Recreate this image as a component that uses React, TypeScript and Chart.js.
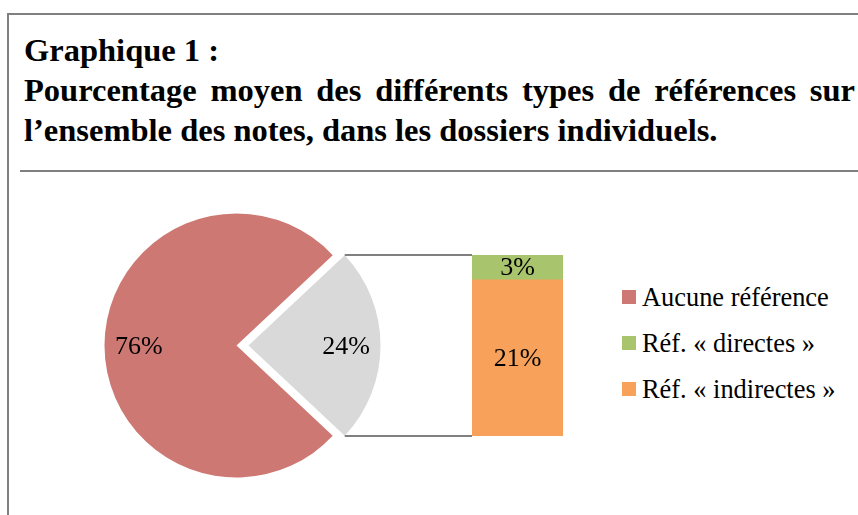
import React, { useEffect, useRef } from "react";
import { Chart, registerables } from "chart.js";

Chart.register(...registerables);

// ---- data ----
const titleLine1 = "Graphique 1 :";
const titleLine2 =
  "Pourcentage moyen des différents types de références sur l’ensemble des notes, dans les dossiers individuels.";

const pieCategories = ["Références", "Aucune référence"];
const pieValues = [24, 76];

const barCategories = ["Références"];
const directValues = [3.3];
const indirectValues = [20.7];

const legendLabels = ["Aucune référence", "Réf. « directes »", "Réf. « indirectes »"];

// ---- styles ----
const FONT = '"Liberation Serif", "Times New Roman", serif';
const RED = "#CD7873";
const GREY = "#D9D9D9";
const GREEN = "#A8C46C";
const ORANGE = "#F8A15B";
const LINE = "#808080";
const legendColors = [RED, GREEN, ORANGE];

const PIE_LEFT = 0;
const PIE_TOP = 171;
const PIE_W = 472;
const PIE_H = 344;
const BAR_LEFT = 472;
const BAR_TOP = 255;
const BAR_W = 91;
const BAR_H = 181;

export default function App() {
  const pieRef = useRef<HTMLCanvasElement | null>(null);
  const barRef = useRef<HTMLCanvasElement | null>(null);

  useEffect(() => {
    if (!pieRef.current || !barRef.current) return;

    const barLabelPlugin = {
      id: "barLabels",
      afterDatasetsDraw(chart: any) {
        const ctx = chart.ctx;
        ctx.save();
        ctx.font = `26px ${FONT}`;
        ctx.fillStyle = "#000";
        ctx.textAlign = "center";
        ctx.textBaseline = "middle";
        chart.data.datasets.forEach((ds: any, di: number) => {
          const meta = chart.getDatasetMeta(di);
          meta.data.forEach((el: any, i: number) => {
            const { x, y, base } = el.getProps(["x", "y", "base"], true);
            ctx.fillText(Math.round(ds.data[i]) + "%", x, (y + base) / 2 + 1);
          });
        });
        ctx.restore();
      },
    };

    const barChart = new Chart(barRef.current, {
      type: "bar",
      data: {
        labels: barCategories,
        datasets: [
          {
            label: legendLabels[2],
            data: indirectValues,
            backgroundColor: ORANGE,
            borderWidth: 0,
            barPercentage: 1,
            categoryPercentage: 1,
          },
          {
            label: legendLabels[1],
            data: directValues,
            backgroundColor: GREEN,
            borderWidth: 0,
            barPercentage: 1,
            categoryPercentage: 1,
          },
        ],
      },
      options: {
        responsive: false,
        animation: false,
        layout: { padding: 0 },
        scales: {
          x: { stacked: true, display: false },
          y: { stacked: true, display: false, min: 0, max: pieValues[0] },
        },
        plugins: {
          legend: { display: false },
          tooltip: { enabled: false },
        },
      },
      plugins: [barLabelPlugin],
    } as any);

    const total = pieValues.reduce((a, b) => a + b, 0);

    const piePlugin = {
      id: "pieLabelsAndConnectors",
      afterDatasetsDraw(chart: any) {
        const ctx = chart.ctx;
        const meta = chart.getDatasetMeta(0);
        const values = chart.data.datasets[0].data as number[];
        ctx.save();
        ctx.font = `26px ${FONT}`;
        ctx.fillStyle = "#000";
        ctx.textAlign = "center";
        ctx.textBaseline = "middle";
        meta.data.forEach((arc: any, i: number) => {
          const { x, y, startAngle, endAngle, outerRadius } = arc.getProps(
            ["x", "y", "startAngle", "endAngle", "outerRadius"],
            true
          );
          const mid = (startAngle + endAngle) / 2;
          const shift = (arc.options.offset || 0) / 4;
          const d = shift + outerRadius * 0.74;
          ctx.fillText(
            Math.round((values[i] / total) * 100) + "%",
            x + Math.cos(mid) * d,
            y + Math.sin(mid) * d + 2
          );
        });

        // connectors from the exploded slice to the stacked bar
        const arc: any = meta.data[0];
        const { x, y, startAngle, endAngle, outerRadius } = arc.getProps(
          ["x", "y", "startAngle", "endAngle", "outerRadius"],
          true
        );
        const mid = (startAngle + endAngle) / 2;
        const shift = (arc.options.offset || 0) / 4;
        const ax = x + Math.cos(mid) * shift;
        const ay = y + Math.sin(mid) * shift;
        const c1x = ax + Math.cos(startAngle) * outerRadius;
        const c1y = ay + Math.sin(startAngle) * outerRadius;
        const c2x = ax + Math.cos(endAngle) * outerRadius;
        const c2y = ay + Math.sin(endAngle) * outerRadius;

        const nb = barChart.data.datasets.length;
        const topEl: any = barChart.getDatasetMeta(nb - 1).data[0];
        const botEl: any = barChart.getDatasetMeta(0).data[0];
        const tp = topEl.getProps(["x", "y", "width"], true);
        const bp = botEl.getProps(["x", "base", "width"], true);
        const dx = BAR_LEFT - PIE_LEFT;
        const dy = BAR_TOP - PIE_TOP;
        const bx1 = dx + tp.x - tp.width / 2;
        const by1 = dy + tp.y;
        const bx2 = dx + bp.x - bp.width / 2;
        const by2 = dy + bp.base;

        ctx.strokeStyle = LINE;
        ctx.lineWidth = 2;
        ctx.beginPath();
        ctx.moveTo(c1x, Math.round(c1y));
        ctx.lineTo(bx1, Math.round(by1));
        ctx.moveTo(c2x, Math.round(c2y));
        ctx.lineTo(bx2, Math.round(by2));
        ctx.stroke();
        ctx.restore();
      },
    };

    const pieChart = new Chart(pieRef.current, {
      type: "pie",
      data: {
        labels: pieCategories,
        datasets: [
          {
            data: pieValues,
            backgroundColor: [GREY, RED],
            borderWidth: 0,
            offset: [48, 0],
          },
        ],
      },
      options: {
        responsive: false,
        animation: false,
        radius: 132,
        rotation: 90 - (pieValues[0] / total) * 180,
        layout: { padding: { left: 1, right: 0, top: 5, bottom: 0 } },
        plugins: {
          legend: { display: false },
          tooltip: { enabled: false },
        },
      },
      plugins: [piePlugin],
    } as any);

    return () => {
      pieChart.destroy();
      barChart.destroy();
    };
  }, []);

  return (
    <div
      style={{
        position: "absolute",
        left: 0,
        top: 0,
        width: 858,
        height: 515,
        overflow: "hidden",
        background: "#fff",
        fontFamily: FONT,
        color: "#000",
      }}
    >
      {/* frame */}
      <div style={{ position: "absolute", left: 7, top: 13, width: 851, height: 2, background: LINE }} />
      <div style={{ position: "absolute", left: 7, top: 13, width: 2, height: 502, background: LINE }} />
      <div style={{ position: "absolute", left: 20, top: 170, width: 838, height: 2, background: LINE }} />

      {/* title */}
      <div
        style={{
          position: "absolute",
          left: 24,
          top: 30,
          width: 831,
          fontSize: 32.5,
          fontWeight: "bold",
          lineHeight: "40px",
        }}
      >
        <div>{titleLine1}</div>
        <div style={{ textAlign: "justify", textAlignLast: "left" as any }}>{titleLine2}</div>
      </div>

      <canvas
        ref={pieRef}
        width={PIE_W}
        height={PIE_H}
        style={{ position: "absolute", left: PIE_LEFT, top: PIE_TOP, width: PIE_W, height: PIE_H }}
      />
      <canvas
        ref={barRef}
        width={BAR_W}
        height={BAR_H}
        style={{ position: "absolute", left: BAR_LEFT, top: BAR_TOP, width: BAR_W, height: BAR_H }}
      />

      {/* legend */}
      <div style={{ position: "absolute", left: 622, top: 274 }}>
        {legendLabels.map((lab, i) => (
          <div key={lab} style={{ display: "flex", alignItems: "center", height: 46 }}>
            <span
              style={{
                display: "inline-block",
                width: 14,
                height: 14,
                background: legendColors[i],
                marginRight: 6,
              }}
            />
            <span style={{ fontSize: 26.4, lineHeight: "30px", whiteSpace: "nowrap" }}>{lab}</span>
          </div>
        ))}
      </div>
    </div>
  );
}
